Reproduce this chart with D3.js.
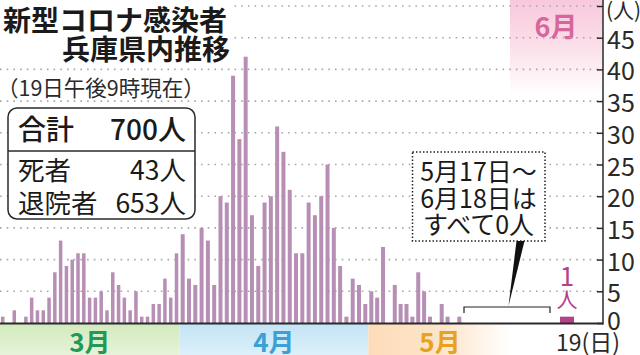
<!DOCTYPE html>
<html><head><meta charset="utf-8">
<script src="https://cdn.jsdelivr.net/npm/d3@7"></script>
<style>
html,body{margin:0;padding:0;background:#fff;}
svg{display:block;}
text{font-family:"Noto Sans CJK JP","Noto Sans",sans-serif;}
</style></head>
<body>
<svg id="chart" width="640" height="355"></svg>
<script>
// ---- data ----
const marchCases = [1,0,2,0,1,4,2,2,4,8,13,9,10,11,11,4,4,5,2,8,6,4,2,5,1,1,3,3,7,4,11];
const aprilCases = [14,7,6,15,13,6,20,19,39,29,42,17,9,19,20,31,27,21,11,11,19,17,20,25,15,9,1,7,6,3];
const mayCases = [5,4,12,0,6,3,3,1,8,5,1,0,3,1,0,1,0,0,0,0,0,0,0,0,0,0,0,0,0,0,0];
const juneCases = [0,0,0,0,0,0,0,0,0,0,0,0,0,0,0,0,0,0,1];
const monthNames = ["3月","4月","5月","6月"];
const yTicks = [0,5,10,15,20,25,30,35,40,45];
const gridValues = [5,10,15,20,25,30,35,40,45,50];
const titleLines = ["新型コロナ感染者","兵庫県内推移"];
const subtitle = "（19日午後9時現在）";
const summaryRows = [["合計","700人"],["死者","43人"],["退院者","653人"]];
const noteLines = ["5月17日～","6月18日は","すべて0人"];

// ---- build table ----
const days = [];
[marchCases, aprilCases, mayCases, juneCases].forEach((arr, m) => {
  arr.forEach((v, d) => days.push({month: m, day: d + 1, value: v}));
});
days.forEach((d, i) => d.i = i);
const lastIdx = days.length - 1;

const svg = d3.select("#chart");

const x = d3.scaleLinear()
  .domain([0, 30, 31, 60, 61, 76, 77, 109, 110])
  .range([2.7, 176.5, 182.7, 365.3, 371.3, 459.3, 465.5, 548, 567]);
const y = d3.scaleLinear().domain([0, 50]).range([323, 6]);
const axisX = 603;

const defs = svg.append("defs");
const g1 = defs.append("linearGradient").attr("id","gGreen").attr("x1",0).attr("y1",0).attr("x2",0).attr("y2",1);
g1.append("stop").attr("offset","0").attr("stop-color","#d3eabd");
g1.append("stop").attr("offset","1").attr("stop-color","#e6f3d8");
const g2 = defs.append("linearGradient").attr("id","gBlue").attr("x1",0).attr("y1",0).attr("x2",0).attr("y2",1);
g2.append("stop").attr("offset","0").attr("stop-color","#c4e4f6");
g2.append("stop").attr("offset","1").attr("stop-color","#dcf0fa");
const g3 = defs.append("linearGradient").attr("id","gOrange").attr("x1",0).attr("y1",0).attr("x2",1).attr("y2",0);
g3.append("stop").attr("offset","0").attr("stop-color","#fcdcb8");
g3.append("stop").attr("offset","0.55").attr("stop-color","#fde6cc");
g3.append("stop").attr("offset","1").attr("stop-color","#ffffff");
const g4 = defs.append("linearGradient").attr("id","gPink").attr("x1",0).attr("y1",0).attr("x2",0).attr("y2",1);
g4.append("stop").attr("offset","0").attr("stop-color","#f8c8dc");
g4.append("stop").attr("offset","0.5").attr("stop-color","#fbe0ea");
g4.append("stop").attr("offset","1").attr("stop-color","#ffffff");

// June band at top
const juneStart = 510;
svg.append("rect").attr("x", juneStart).attr("y", 0).attr("width", axisX - juneStart).attr("height", 95)
  .attr("fill", "url(#gPink)");
svg.append("text").attr("x", 556).attr("y", 25).attr("text-anchor","middle").attr("dominant-baseline","central")
  .attr("font-size", 27).attr("font-weight","bold").attr("fill","#d6679c").text(monthNames[3]);

// gridlines
svg.append("g").selectAll("line").data(gridValues).join("line")
  .attr("x1", 0).attr("x2", axisX - 5)
  .attr("y1", d => y(d)).attr("y2", d => y(d))
  .attr("stroke", "#a8a8a8").attr("stroke-width", 1.6)
  .attr("stroke-dasharray", "1.6 5.1");

// month bands below axis
const bandEdges = [0, (x(30) + x(31)) / 2, (x(60) + x(61)) / 2, juneStart];
const bandFills = ["url(#gGreen)", "url(#gBlue)", "url(#gOrange)"];
const bandText = ["#1f9a5b", "#3aa0d6", "#e8a21c"];
for (let m = 0; m < 3; m++) {
  svg.append("rect").attr("x", bandEdges[m]).attr("y", 324).attr("width", bandEdges[m+1] - bandEdges[m])
    .attr("height", 31).attr("fill", bandFills[m]);
  const cx = m < 2 ? (bandEdges[m] + bandEdges[m+1]) / 2 : 440;
  svg.append("text").attr("x", cx).attr("y", 340).attr("text-anchor","middle").attr("dominant-baseline","central")
    .attr("font-size", 26).attr("font-weight","bold").attr("fill", bandText[m]).text(monthNames[m]);
}

// bars
svg.append("g").selectAll("rect").data(days.filter(d => d.value > 0)).join("rect")
  .attr("x", d => {
    const w = d.i === lastIdx ? 14 : (d.month === 0 ? 3.5 : 4);
    return x(d.i) - w / 2;
  })
  .attr("width", d => d.i === lastIdx ? 14 : (d.month === 0 ? 3.5 : 4))
  .attr("y", d => y(d.value))
  .attr("height", d => y(0) - y(d.value))
  .attr("fill", d => d.i === lastIdx ? "#b4428b" : "#b78fb5");

// baseline
svg.append("line").attr("x1", 0).attr("x2", axisX).attr("y1", y(0) + 0.5).attr("y2", y(0) + 0.5)
  .attr("stroke", "#2a2a2a").attr("stroke-width", 2);

// y axis (right side, labels to the right)
svg.append("line").attr("x1", axisX).attr("x2", axisX).attr("y1", 0).attr("y2", y(0) + 1.5)
  .attr("stroke", "#2a2a2a").attr("stroke-width", 1.5);
const yAxis = d3.axisLeft(y).tickValues(gridValues.concat([0])).tickSize(6).tickFormat("");
const ya = svg.append("g").attr("transform", `translate(${axisX},0)`).call(yAxis);
ya.select(".domain").remove();
ya.selectAll("line").attr("stroke", "#2a2a2a").attr("stroke-width", 1.5);
svg.append("g").selectAll("text").data(yTicks).join("text")
  .attr("x", axisX + 4).attr("y", d => d === 0 ? y(d) - 4 : y(d)).attr("dominant-baseline","central")
  .attr("font-family", "Liberation Sans, Arial, sans-serif")
  .attr("font-size", 25).attr("fill", "#2a2a2a").text(d => d);
svg.append("text").attr("x", axisX + 3).attr("y", 9).attr("dominant-baseline","central")
  .attr("font-size", 21).attr("fill", "#2a2a2a").text("(人)");

// x label 19(日)
svg.append("text").attr("x", x(lastIdx) - 11).attr("y", 341).attr("dominant-baseline","central")
  .attr("font-size", 23).attr("fill", "#2a2a2a").text(`${days[lastIdx].day}(日)`);

// "1人" label
svg.append("text").attr("x", x(lastIdx)).attr("y", 274).attr("text-anchor","middle").attr("dominant-baseline","central")
  .attr("font-size", 26).attr("fill", "#b4428b").text(days[lastIdx].value);
svg.append("text").attr("x", x(lastIdx)).attr("y", 298).attr("text-anchor","middle").attr("dominant-baseline","central")
  .attr("font-size", 21).attr("fill", "#b4428b").text("人");

// bracket for zero period
const bx1 = x(77) - 1.5, bx2 = x(109) + 2;
svg.append("path").attr("d", `M${bx1},313 V307 H${bx2} V313`).attr("fill","none")
  .attr("stroke","#222").attr("stroke-width",1.2);
// pointer wedge
svg.append("path").attr("d", "M516.5,241 L524.5,241 L508.5,306 Z").attr("fill", "#111");
// note box
svg.append("rect").attr("x", 412.5).attr("y", 152).attr("width", 132.5).attr("height", 89)
  .attr("fill", "#fff").attr("stroke", "#222").attr("stroke-width", 1.5).attr("stroke-dasharray", "1.5 2");
svg.append("g").selectAll("text").data(noteLines).join("text")
  .attr("x", 478.5).attr("y", (d, i) => 170 + i * 26.5).attr("text-anchor","middle").attr("dominant-baseline","central")
  .attr("font-family", "Liberation Serif, DejaVu Serif, serif")
  .attr("font-size", 25).attr("fill", "#1a1a1a").text(d => d);

// title block
svg.append("rect").attr("x", 0).attr("y", 0).attr("width", 234).attr("height", 63).attr("fill", "#fff");
svg.append("text").attr("x", 3).attr("y", 18.5).attr("dominant-baseline","central")
  .attr("font-size", 28).attr("font-weight","bold").attr("fill","#1a1a1a").text(titleLines[0]);
svg.append("text").attr("x", 230).attr("y", 47.5).attr("text-anchor","end").attr("dominant-baseline","central")
  .attr("font-size", 28).attr("font-weight","bold").attr("fill","#1a1a1a").text(titleLines[1]);
svg.append("text").attr("x", -3).attr("y", 86).attr("dominant-baseline","central")
  .attr("font-size", 21.5).attr("fill","#2a2a2a").text(subtitle);

// summary box
svg.append("rect").attr("x", 8).attr("y", 108).attr("width", 187).attr("height", 111).attr("rx", 9)
  .attr("fill", "#fff").attr("stroke", "#2a2a2a").attr("stroke-width", 1.5);
svg.append("line").attr("x1", 8).attr("x2", 195).attr("y1", 151).attr("y2", 151)
  .attr("stroke", "#2a2a2a").attr("stroke-width", 1.5);
const rowY = [128, 168.5, 201.5];
const rowSize = [28, 26.5, 26.5];
summaryRows.forEach((r, i) => {
  svg.append("text").attr("x", 18).attr("y", rowY[i]).attr("dominant-baseline","central")
    .attr("font-size", rowSize[i]).attr("font-weight", i === 0 ? 500 : 400).attr("fill","#1a1a1a").text(r[0]);
  svg.append("text").attr("x", 186).attr("y", rowY[i]).attr("text-anchor","end").attr("dominant-baseline","central")
    .attr("font-size", rowSize[i]).attr("font-weight", i === 0 ? 500 : 400).attr("fill","#1a1a1a").text(r[1]);
});
</script>
</body></html>
